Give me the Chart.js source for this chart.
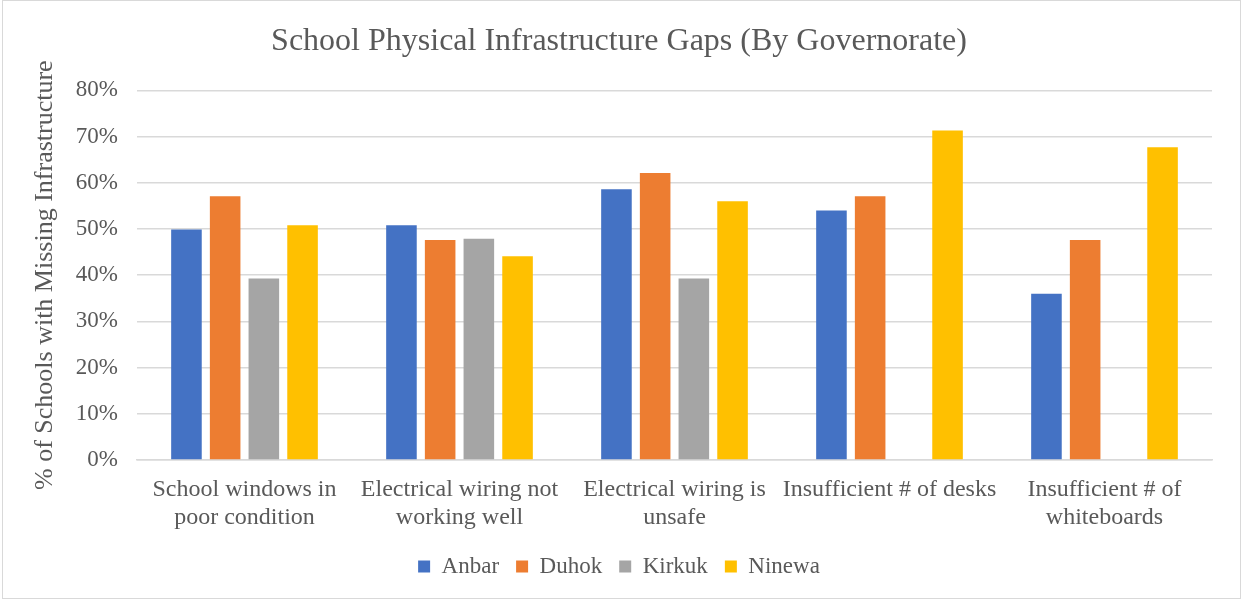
<!DOCTYPE html>
<html>
<head>
<meta charset="utf-8">
<title>School Physical Infrastructure Gaps</title>
<script src="https://cdn.jsdelivr.net/npm/chart.js@4/dist/chart.umd.min.js"></script>
<style>
  body { margin: 0; background: #fff; }
  canvas { display: block; }
</style>
</head>
<body>
<canvas id="myChart" width="1242" height="600"></canvas>
<script>
// values (percent of schools)
const categories = [
    ['School windows in', 'poor condition'],
    ['Electrical wiring not', 'working well'],
    ['Electrical wiring is', 'unsafe'],
    'Insufficient # of desks',
    ['Insufficient # of', 'whiteboards']
]
const anbar = [49.9, 50.8, 58.6, 54.0, 36.0]
const duhok = [57.1, 47.6, 62.1, 57.1, 47.6]
const kirkuk = [39.3, 47.9, 39.3, null, null]
const ninewa = [50.8, 44.1, 56.0, 71.3, 67.7]
const yTicks = [0, 10, 20, 30, 40, 50, 60, 70, 80]

const serif = '"Liberation Serif", "Times New Roman", serif'
const txt = '#595959'
const grid = '#D9D9D9'

// light frame round the whole chart
const frame = {
    id: 'frame',
    afterDraw(chart) {
        const c = chart.ctx
        c.save()
        c.strokeStyle = grid
        c.lineWidth = 1
        c.strokeRect(2.5, 0.5, 1238, 598)
        c.restore()
    }
}

function serie(label, values, color) {
    return {
        label,
        data: values,
        backgroundColor: color,
        borderColor: color,
        borderWidth: 0,
        categoryPercentage: 0.72,
        barPercentage: 0.79
    }
}

const ctx = document.getElementById('myChart')

const data = {
    labels: categories,
    datasets: [
        serie('Anbar', anbar, '#4472C4'),
        serie('Duhok', duhok, '#ED7D31'),
        serie('Kirkuk', kirkuk, '#A5A5A5'),
        serie('Ninewa', ninewa, '#FFC000')
    ]
}

const config = {
    type: 'bar',
    data,
    plugins: [frame],
    options: {
        responsive: false,
        animation: false,
        devicePixelRatio: 1,
        layout: { padding: { left: 26, right: 30, top: 0, bottom: 12 } },
        plugins: {
            title: {
                display: true,
                text: 'School Physical Infrastructure Gaps (By Governorate)',
                color: txt,
                font: { family: serif, size: 32, weight: 'normal' },
                padding: { top: 22, bottom: 30 }
            },
            legend: {
                position: 'bottom',
                labels: {
                    color: txt,
                    font: { family: serif, size: 23 },
                    boxWidth: 12,
                    boxHeight: 12,
                    padding: 17
                }
            },
            tooltip: { enabled: false }
        },
        scales: {
            x: {
                grid: { display: false, drawTicks: false },
                border: { color: grid, width: 1.5 },
                ticks: {
                    color: txt,
                    font: { family: serif, size: 24 },
                    padding: 15,
                    maxRotation: 0,
                    autoSkip: false
                },
                afterFit(scale) { scale.height = 78 }
            },
            y: {
                min: 0,
                max: 80,
                afterBuildTicks(scale) { scale.ticks = yTicks.map(v => ({ value: v })) },
                grid: { color: grid, lineWidth: 1.5, drawTicks: false },
                border: { display: false },
                ticks: {
                    color: txt,
                    font: { family: serif, size: 23 },
                    padding: 19,
                    callback: v => v + '%'
                },
                title: {
                    display: true,
                    text: '% of Schools with Missing Infrastructure',
                    color: txt,
                    font: { family: serif, size: 26 },
                    padding: { top: 4, bottom: 4 }
                },
                afterFit(scale) { scale.width = 111 }
            }
        }
    }
}

const myChart = new Chart(ctx, config)
</script>
</body>
</html>
